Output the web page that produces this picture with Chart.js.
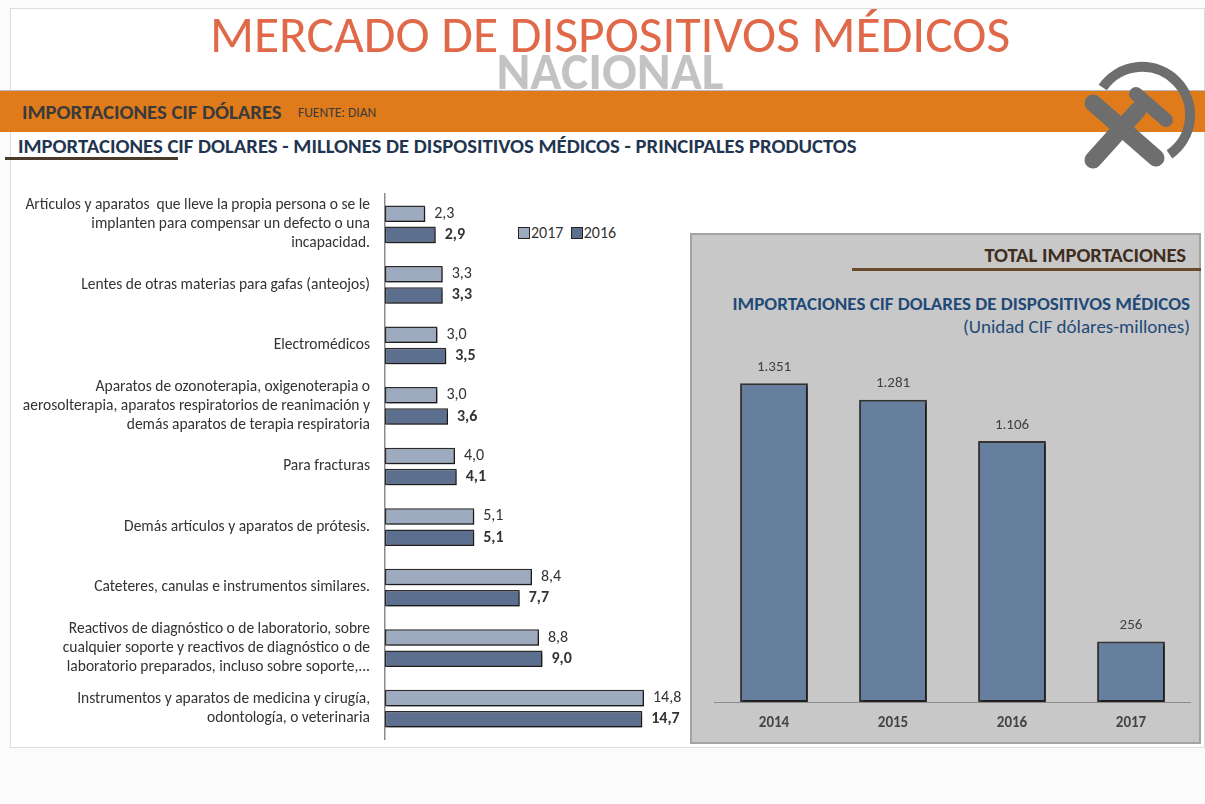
<!DOCTYPE html>
<html>
<head>
<meta charset="utf-8">
<script src="https://cdn.jsdelivr.net/npm/chart.js@4.4.1/dist/chart.umd.min.js"></script>
<style>
  body { margin: 0; width: 1205px; height: 804px; background: #fbfbfb; position: relative; overflow: hidden;
         font-family: Carlito, Lato, sans-serif; }
  .abs { position: absolute; white-space: nowrap; }
  #frame { left: 10px; top: 8px; width: 1195px; height: 740px; background: #fff; border: 1px solid #ddd; box-sizing: border-box; }
  #title { left: 0; width: 1220px; top: 3px; text-align: center; font-size: 51.5px; color: #e0694a; }
  #nacional { left: 0; width: 1220px; top: 40px; text-align: center; font-size: 51.5px; color: #c3c3c3; font-weight: bold; }
  #band { left: 0; top: 90px; width: 1205px; height: 41px; background: #e07b1b; border-top: 1px solid #bbb; }
  #bandtxt { left: 22px; top: 98.5px; font-size: 20.7px; font-weight: bold; color: #3a3a3a; }
  #fuente { left: 298px; top: 104px; font-size: 13.5px; color: #3a3a3a; }
  #sub { left: 18px; top: 133px; font-size: 20.7px; font-weight: bold; color: #1f3550; }
  #subline { left: 5px; top: 157px; width: 173px; height: 3px; background: #4a3a2a; }
  #panel { left: 690px; top: 233px; width: 511px; height: 511px; background: #c8c8c8; border: 2px solid #a3a3a3; box-sizing: border-box; }
  #total { left: 700px; width: 486px; top: 242px; text-align: right; font-size: 20.6px; font-weight: bold; color: #3f2d1e; }
  #totalline { left: 852px; top: 268px; width: 349px; height: 3px; background: #6b4a2c; }
  #rt1 { left: 700px; width: 490px; top: 292px; text-align: right; font-size: 19px; font-weight: bold; color: #1f4a78; }
  #rt2 { left: 700px; width: 490px; top: 315px; text-align: right; font-size: 19px; color: #1f4a78; }
  #legend { left: 518px; top: 223px; font-size: 16px; color: #333; }
  #legend span.box { display: inline-block; width: 10px; height: 10px; border: 1.5px solid #222; vertical-align: -1px; margin-right: 1px; }
  #leftWrap { left: 10px; top: 190px; width: 680px; height: 552px; }
  #rightWrap { left: 690px; top: 340px; width: 515px; height: 400px; }
</style>
</head>
<body>
<div id="frame" class="abs"></div>
<div id="nacional" class="abs">NACIONAL</div>
<div id="title" class="abs">MERCADO DE DISPOSITIVOS MÉDICOS</div>
<div id="band" class="abs"></div>
<div id="bandtxt" class="abs">IMPORTACIONES CIF DÓLARES</div>
<div id="fuente" class="abs">FUENTE: DIAN</div>
<div id="sub" class="abs">IMPORTACIONES CIF DOLARES - MILLONES DE DISPOSITIVOS MÉDICOS - PRINCIPALES PRODUCTOS</div>
<div id="subline" class="abs"></div>
<svg class="abs" style="left:1080px;top:60px" width="125" height="120" viewBox="1080 60 125 120">
  <path d="M1102.7 87.5 A48 48 0 1 1 1169.5 154.3" fill="none" stroke="#6e6e6e" stroke-width="10"/>
  <g stroke="#6e6e6e" stroke-linecap="round" fill="none">
    <line x1="1093" y1="103" x2="1156" y2="158" stroke-width="17"/>
    <line x1="1093" y1="160" x2="1138" y2="110" stroke-width="17"/>
    <line x1="1136" y1="94" x2="1166" y2="120" stroke-width="14"/>
  </g>
</svg>
<div id="panel" class="abs"></div>
<div id="total" class="abs">TOTAL IMPORTACIONES</div>
<div id="totalline" class="abs"></div>
<div id="rt1" class="abs">IMPORTACIONES CIF DOLARES DE DISPOSITIVOS MÉDICOS</div>
<div id="rt2" class="abs">(Unidad CIF dólares-millones)</div>
<div id="legend" class="abs"><span class="box" style="background:#9eaac0"></span>2017 &nbsp;<span class="box" style="background:#5c6f8e"></span>2016</div>
<div id="leftWrap" class="abs"><canvas id="left"></canvas></div>
<div id="rightWrap" class="abs"><canvas id="right"></canvas></div>
<script>
const productos = [
  ["Artículos y aparatos  que lleve la propia persona o se le", "implanten para compensar un defecto o una", "incapacidad."],
  "Lentes de otras materias para gafas (anteojos)",
  "Electromédicos",
  ["Aparatos de ozonoterapia, oxigenoterapia o", "aerosolterapia, aparatos respiratorios de reanimación y", "demás aparatos de terapia respiratoria"],
  "Para fracturas",
  "Demás artículos y aparatos de prótesis.",
  "Cateteres, canulas e instrumentos similares.",
  ["Reactivos de diagnóstico o de laboratorio, sobre", "cualquier soporte y reactivos de diagnóstico o de", "laboratorio preparados, incluso sobre soporte,..."],
  ["Instrumentos y aparatos de medicina y cirugía,", "odontología, o veterinaria"]
];
const valores2017 = [2.3, 3.3, 3.0, 3.0, 4.0, 5.1, 8.4, 8.8, 14.8];
const valores2016 = [2.9, 3.3, 3.5, 3.6, 4.1, 5.1, 7.7, 9.0, 14.7];

const anios = ["2014", "2015", "2016", "2017"];
const totales = [1351, 1281, 1106, 256];

const FONT = 'Carlito, Lato, sans-serif';
Chart.defaults.font.family = FONT;
Chart.defaults.animation = false;

const sombra = {
  id: "sombra",
  beforeDatasetsDraw(c) {
    c.ctx.save();
    c.ctx.shadowColor = "rgba(0,0,0,0.45)";
    c.ctx.shadowOffsetX = 2;
    c.ctx.shadowOffsetY = 2;
    c.ctx.shadowBlur = 2;
  },
  afterDatasetsDraw(c) { c.ctx.restore(); }
};

const etiquetasIzq = {
  id: "etiquetasIzq",
  afterDraw(c) {
    const ctx = c.ctx;
    ctx.save();
    ctx.fillStyle = "#333";
    ctx.textBaseline = "middle";
    c.data.datasets.forEach((ds, i) => {
      ctx.font = (i === 1 ? "bold " : "") + "16px " + FONT;
      c.getDatasetMeta(i).data.forEach((bar, j) => {
        ctx.fillText(ds.data[j].toFixed(1).replace(".", ","), bar.x + 9, bar.y);
      });
    });
    ctx.restore();
  }
};

new Chart(document.getElementById("left"), {
  type: "bar",
  data: {
    labels: productos,
    datasets: [
      { label: "2017", data: valores2017, backgroundColor: "#9eaac0", borderColor: "#2b2b2b", borderWidth: 1.5, borderSkipped: false,
        categoryPercentage: 0.7, barPercentage: 0.78 },
      { label: "2016", data: valores2016, backgroundColor: "#5c6f8e", borderColor: "#2b2b2b", borderWidth: 1.5, borderSkipped: false,
        categoryPercentage: 0.7, barPercentage: 0.78 }
    ]
  },
  options: {
    indexAxis: "y",
    responsive: true,
    maintainAspectRatio: false,
    layout: { padding: { top: 4, bottom: 3, right: 7.5, left: 0 } },
    plugins: { legend: { display: false }, tooltip: { enabled: false } },
    scales: {
      x: { display: false, min: 0, max: 17 },
      y: {
        afterFit(s) { s.width = 375; s.paddingTop = 0; s.paddingBottom = 0; },
        grid: { display: false, drawTicks: false },
        border: { display: true, color: "#8c8c8c", width: 1.5 },
        ticks: { padding: 15, color: "#333", font: { size: 15.5, lineHeight: 1.23 }, autoSkip: false }
      }
    }
  },
  plugins: [sombra, etiquetasIzq]
});

const etiquetasDer = {
  id: "etiquetasDer",
  afterDraw(c) {
    const ctx = c.ctx;
    ctx.save();
    ctx.fillStyle = "#404040";
    ctx.textAlign = "center";
    ctx.textBaseline = "middle";
    ctx.font = "15px " + FONT;
    c.getDatasetMeta(0).data.forEach((bar, j) => {
      ctx.fillText(totales[j].toLocaleString("de-DE"), bar.x, bar.y - 16);
    });
    ctx.restore();
  }
};

new Chart(document.getElementById("right"), {
  type: "bar",
  data: {
    labels: anios,
    datasets: [{ data: totales, backgroundColor: "#667f9f", borderColor: "#333", borderWidth: 2, borderSkipped: false,
                 categoryPercentage: 1, barPercentage: 0.57 }]
  },
  options: {
    responsive: true,
    maintainAspectRatio: false,
    layout: { padding: { top: 8, bottom: 0, left: 24.5, right: 14.5 } },
    plugins: { legend: { display: false }, tooltip: { enabled: false } },
    scales: {
      y: { display: false, min: 0, max: 1500 },
      x: {
        afterFit(s) { s.height = 38; },
        grid: { display: false, drawTicks: false },
        border: { display: true, color: "#8a8a8a", width: 1 },
        ticks: { padding: 12, color: "#444", font: { size: 15, weight: "bold" } }
      }
    }
  },
  plugins: [sombra, etiquetasDer]
});
</script>
</body>
</html>
